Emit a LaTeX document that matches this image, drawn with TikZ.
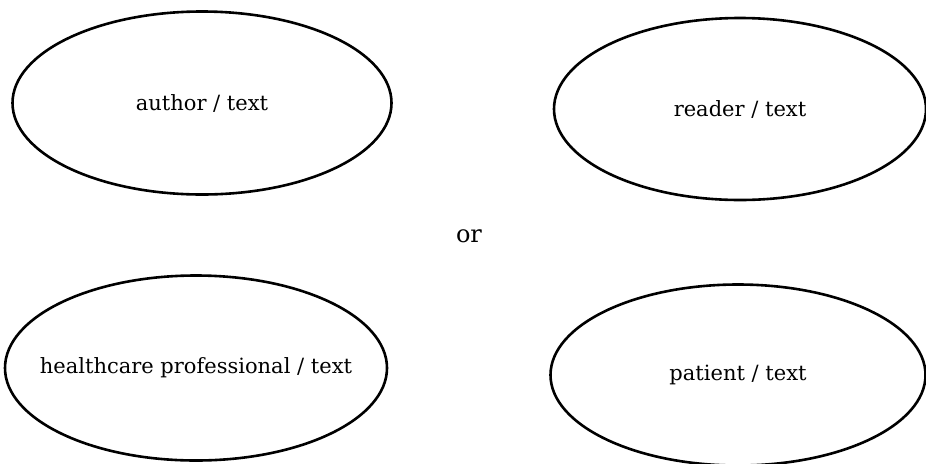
\documentclass[tikz,border=0pt]{standalone}
\usepackage{fontspec}
\setmainfont{DejaVu Serif}
\usetikzlibrary{shapes,positioning}

\begin{document}
\begin{tikzpicture}[x=0.5pt,y=0.5pt]
\tikzset{role/.style={ellipse,draw,line width=1.3pt,inner sep=-20pt,font=\fontsize{10.5}{12}\selectfont}}
\useasboundingbox (0,0) rectangle (926,463);
% upper pair
\node[role,minimum width=379pt*0.5,minimum height=183pt*0.5] (author) at (202,360) {author / text};
\node[role,minimum width=372pt*0.5,minimum height=182pt*0.5] (reader) at (740,354) {reader / text};
% lower pair
\node[role,minimum width=382pt*0.5,minimum height=185pt*0.5] (hcp) at (196,95) {healthcare professional / text};
\node[role,minimum width=375pt*0.5,minimum height=181pt*0.5] (patient) at (738,88) {patient / text};
\node[anchor=base,font=\fontsize{12}{14}\selectfont] (orlabel) at (469,221) {or};
\end{tikzpicture}
\end{document}
